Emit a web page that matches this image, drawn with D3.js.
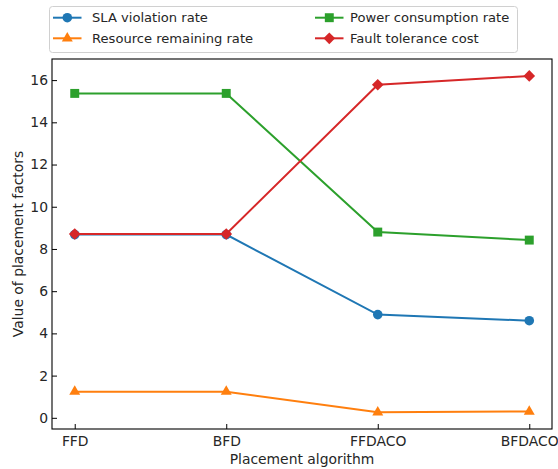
<!DOCTYPE html>
<html>
<head>
<meta charset="utf-8">
<script src="https://cdn.jsdelivr.net/npm/d3@7"></script>
<style>
body{margin:0;background:#fff;}
svg text{font-family:"DejaVu Sans",sans-serif;fill:#262626;}
</style>
</head>
<body>
<div id="chart"></div>
<script>
// data
var algorithms=["FFD","BFD","FFDACO","BFDACO"];
var slaRate=[8.68,8.68,4.89,4.6];
var resourceRate=[1.24,1.24,0.26,0.3];
var powerRate=[15.37,15.37,8.8,8.42];
var faultCost=[8.71,8.71,15.78,16.2];
var yTicks=[0,2,4,6,8,10,12,14,16];

// matplotlib 'D' marker = square turned 45 degrees
var series=[
  {name:"SLA violation rate",values:slaRate,color:"#1f77b4",shape:d3.symbolCircle,size:72,rot:0},
  {name:"Resource remaining rate",values:resourceRate,color:"#ff7f0e",shape:d3.symbolTriangle,size:52,rot:0},
  {name:"Power consumption rate",values:powerRate,color:"#2ca02c",shape:d3.symbolSquare,size:80,rot:0},
  {name:"Fault tolerance cost",values:faultCost,color:"#d62728",shape:d3.symbolSquare,size:68,rot:45}
];

const width=558, height=469;
const axLeft=52, axRight=552, axTop=59, axBottom=429;
const fs="13.9px";

var svg=d3.select("#chart").append("svg")
  .attr("width",width).attr("height",height);

var xScale=d3.scaleLinear().domain([-0.15,3.15]).range([axLeft,axRight]);
var yScale=d3.scaleLinear().domain([-0.53,17.0]).range([axBottom,axTop]);

var g=svg.append("g");

// lines and markers
var line=d3.line().x((d,i)=>xScale(i)).y(d=>yScale(d));
series.forEach(function(s){
  g.append("path")
    .attr("d",line(s.values))
    .attr("fill","none")
    .attr("stroke",s.color)
    .attr("stroke-width",2);
  g.selectAll(null).data(s.values).enter()
    .append("path")
      .attr("d",d3.symbol().type(s.shape).size(s.size))
      .attr("transform",(d,i)=>`translate(${xScale(i)},${yScale(d)}) rotate(${s.rot})`)
      .attr("fill",s.color);
});

// y axis
var yAxis=svg.append("g")
  .attr("transform",`translate(${axLeft},0)`)
  .call(d3.axisLeft(yScale).tickValues(yTicks).tickSize(-5).tickPadding(4).tickSizeOuter(0));
// x axis
var xAxis=svg.append("g")
  .attr("transform",`translate(0,${axBottom})`)
  .call(d3.axisBottom(xScale).tickValues([0,1,2,3]).tickFormat(i=>algorithms[i]).tickSize(-5).tickPadding(4).tickSizeOuter(0));

[xAxis,yAxis].forEach(function(a){
  a.select(".domain").remove();
  a.selectAll("line").attr("stroke","#000").attr("stroke-width",1);
  a.selectAll("text").attr("font-size",fs).attr("font-family","DejaVu Sans").attr("fill","#262626");
});
xAxis.selectAll("text").attr("dy","0.95em");

// frame
svg.append("rect")
  .attr("x",axLeft).attr("y",axTop)
  .attr("width",axRight-axLeft).attr("height",axBottom-axTop)
  .attr("fill","none").attr("stroke","#000").attr("stroke-width",1.1);

// axis labels
svg.append("text")
  .attr("x",(axLeft+axRight)/2).attr("y",464)
  .attr("text-anchor","middle").attr("font-size",fs)
  .text("Placement algorithm");
svg.append("text")
  .attr("transform",`translate(23,${(axTop+axBottom)/2}) rotate(-90)`)
  .attr("text-anchor","middle").attr("font-size",fs)
  .text("Value of placement factors");

// legend
var legend=svg.append("g");
legend.append("rect")
  .attr("x",49.5).attr("y",6.5).attr("width",468).attr("height",46)
  .attr("rx",3).attr("fill","#fff").attr("fill-opacity",0.8)
  .attr("stroke","#d0d0d0").attr("stroke-width",1);
var legendPos=[[53,17.7,39],[53,38.3,39],[315,17.7,35],[315,38.3,35]];
series.forEach(function(s,i){
  var p=legendPos[i];
  var item=legend.append("g").attr("transform",`translate(${p[0]},${p[1]})`);
  item.append("line").attr("x1",0).attr("x2",28.5).attr("y1",0).attr("y2",0)
    .attr("stroke",s.color).attr("stroke-width",2);
  item.append("path").attr("d",d3.symbol().type(s.shape).size(s.size))
    .attr("transform",`translate(14.3,0) rotate(${s.rot})`).attr("fill",s.color);
  item.append("text").attr("x",p[2]).attr("y",0).attr("dy","0.36em")
    .attr("font-size","13.1px").text(s.name);
});
</script>
</body>
</html>
